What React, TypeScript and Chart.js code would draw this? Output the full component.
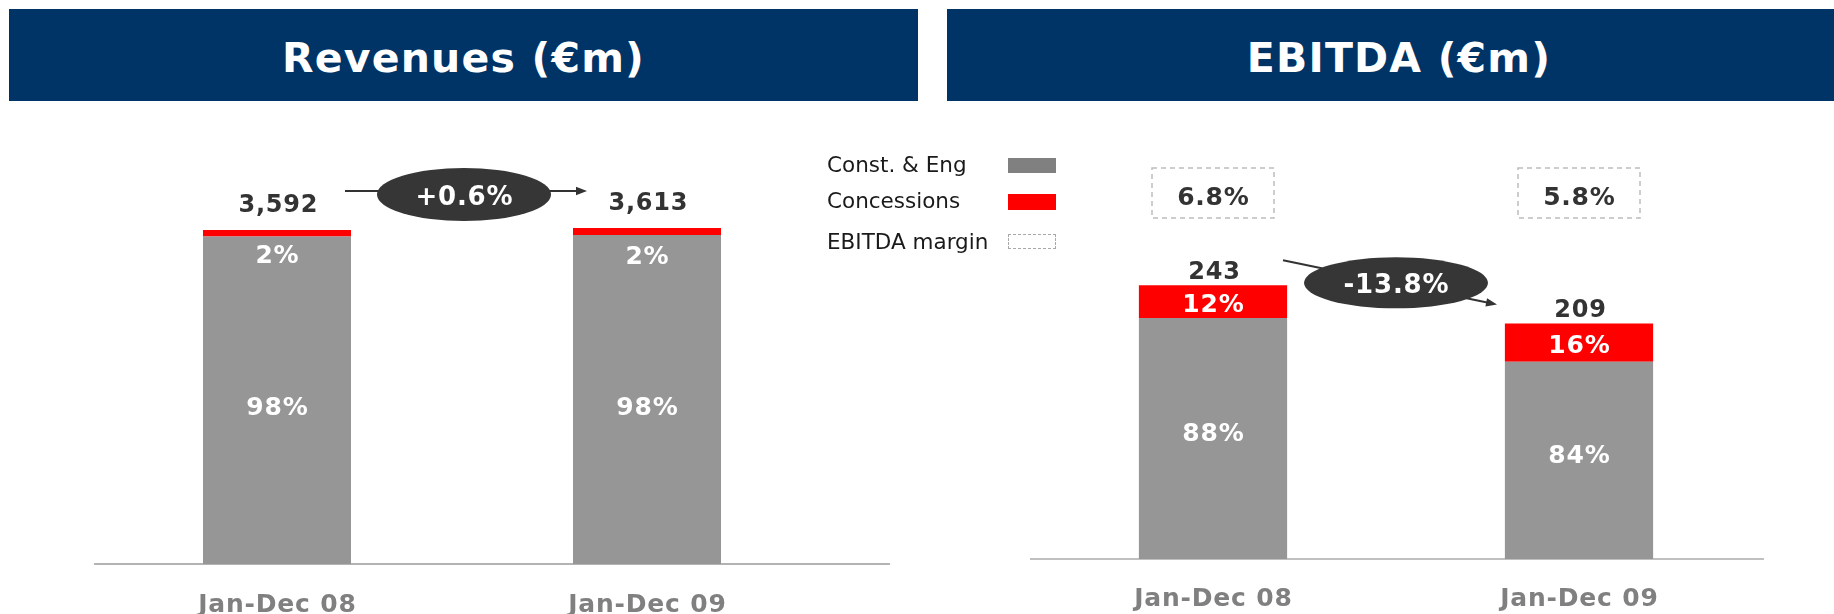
import React, { useEffect, useRef } from "react";
import { Chart, registerables } from "chart.js";

Chart.register(...registerables);

// ---------- data ----------
const periods = ["Jan-Dec 08", "Jan-Dec 09"];

const revenueConstEng = [3522, 3538];
const revenueConcessions = [70, 75];
const revenueTotalLabels = ["3,592", "3,613"];
const revenueConstEngShare = ["98%", "98%"];
const revenueConcessionsShare = ["2%", "2%"];
const revenueGrowth = "+0.6%";

const ebitdaConstEng = [214, 175];
const ebitdaConcessions = [29, 34];
const ebitdaTotalLabels = ["243", "209"];
const ebitdaConstEngShare = ["88%", "84%"];
const ebitdaConcessionsShare = ["12%", "16%"];
const ebitdaMargins = ["6.8%", "5.8%"];
const ebitdaGrowth = "-13.8%";

const legendLabels = ["Const. & Eng", "Concessions", "EBITDA margin"];

// ---------- styles ----------
const GRAY = "#969696";
const RED = "#FF0000";
const NAVY = "#003366";
const DARK = "#333333";
const FONT = '"DejaVu Sans", Verdana, sans-serif';

function drawText(
  ctx: CanvasRenderingContext2D,
  s: string,
  x: number,
  cy: number,
  size: number,
  color: string,
  spacing = 0
) {
  ctx.save();
  ctx.font = `bold ${size}px ${FONT}`;
  ctx.fillStyle = color;
  ctx.textAlign = "center";
  ctx.textBaseline = "alphabetic";
  (ctx as any).letterSpacing = spacing + "px";
  ctx.fillText(s, x + spacing / 2, cy + size * 0.365);
  ctx.restore();
}

function drawArrow(ctx: CanvasRenderingContext2D, x1: number, y1: number, x2: number, y2: number) {
  const ang = Math.atan2(y2 - y1, x2 - x1);
  const len = 11;
  const w = 4.2;
  ctx.save();
  ctx.strokeStyle = DARK;
  ctx.fillStyle = DARK;
  ctx.lineWidth = 2;
  ctx.beginPath();
  ctx.moveTo(x1, y1);
  ctx.lineTo(x2 - Math.cos(ang) * len * 0.8, y2 - Math.sin(ang) * len * 0.8);
  ctx.stroke();
  ctx.beginPath();
  ctx.moveTo(x2, y2);
  ctx.lineTo(x2 - Math.cos(ang) * len - Math.sin(ang) * w, y2 - Math.sin(ang) * len + Math.cos(ang) * w);
  ctx.lineTo(x2 - Math.cos(ang) * len + Math.sin(ang) * w, y2 - Math.sin(ang) * len - Math.cos(ang) * w);
  ctx.closePath();
  ctx.fill();
  ctx.restore();
}

function drawBubble(ctx: CanvasRenderingContext2D, cx: number, cy: number, w: number, h: number, label: string) {
  ctx.save();
  ctx.fillStyle = "#363636";
  ctx.beginPath();
  ctx.ellipse(cx, cy, w / 2, h / 2, 0, 0, Math.PI * 2);
  ctx.fill();
  ctx.restore();
  drawText(ctx, label, cx, cy + 1, 26, "#FFFFFF", 0.8);
}

type Cfg = {
  kind: "rev" | "ebitda";
  totals: string[];
  bottomShares: string[];
  topShares: string[];
  growth: string;
  margins?: string[];
  axisFrom: number;
  axisTo: number;
  axisColor: string;
  labelOffset: number;
};

function makePlugin(cfg: Cfg) {
  return {
    id: "annotations_" + cfg.kind,
    beforeDatasetsDraw(chart: any) {
      const ctx: CanvasRenderingContext2D = chart.ctx;
      const a = chart.chartArea;
      const y0 = chart.scales.y.getPixelForValue(0);
      ctx.save();
      ctx.strokeStyle = cfg.axisColor;
      ctx.lineWidth = 1.5;
      ctx.beginPath();
      ctx.moveTo(a.left + cfg.axisFrom, y0);
      ctx.lineTo(a.right + cfg.axisTo, y0);
      ctx.stroke();
      ctx.restore();
    },
    afterDatasetsDraw(chart: any) {
      const ctx: CanvasRenderingContext2D = chart.ctx;
      const a = chart.chartArea;
      const g = chart.getDatasetMeta(0).data as any[];
      const r = chart.getDatasetMeta(1).data as any[];
      const y0 = chart.scales.y.getPixelForValue(0);

      (chart.data.labels as string[]).forEach((lab, i) => {
        drawText(ctx, lab, g[i].x, y0 + cfg.labelOffset, 25, "#808080", 0.8);
      });

      g.forEach((bar, i) => {
        const grayTop = bar.y;
        const base = bar.base;
        const redTop = r[i].y;
        if (cfg.kind === "rev") {
          drawText(ctx, cfg.totals[i], bar.x + 1, redTop - 27, 24, DARK, 0.8);
          drawText(ctx, cfg.topShares[i], bar.x, grayTop + 17 + i * 3, 25, "#FFFFFF", 0.8);
          drawText(ctx, cfg.bottomShares[i], bar.x, (grayTop + base) / 2 + 6, 25, "#FFFFFF", 0.8);
        } else {
          drawText(ctx, cfg.totals[i], bar.x + 1, redTop - 15, 24, DARK, 0.8);
          drawText(ctx, cfg.topShares[i], bar.x, (redTop + grayTop) / 2 + 1, 25, "#FFFFFF", 0.8);
          drawText(ctx, cfg.bottomShares[i], bar.x, (grayTop + base) / 2 - 7, 25, "#FFFFFF", 0.8);
          if (cfg.margins) {
            const bw = 122;
            const bh = 50;
            const cy = a.top - 28;
            ctx.save();
            ctx.strokeStyle = "#BDBDBD";
            ctx.lineWidth = 1.5;
            ctx.setLineDash([5, 4]);
            ctx.strokeRect(bar.x - bw / 2, cy - bh / 2, bw, bh);
            ctx.restore();
            drawText(ctx, cfg.margins[i], bar.x, cy + 3, 25, DARK, 0.8);
          }
        }
      });

      if (cfg.kind === "rev") {
        const ay = Math.min(r[0].y, r[1].y) - 37;
        drawArrow(ctx, g[0].x + 68, ay, g[1].x - 60, ay);
        drawBubble(ctx, (g[0].x + g[1].x) / 2 + 2, ay + 3.5, 174, 53, cfg.growth);
      } else {
        const x1 = g[0].x + 70;
        const y1 = r[0].y - 25;
        const x2 = g[1].x - 82;
        const y2 = r[1].y - 19;
        drawArrow(ctx, x1, y1, x2, y2);
        drawBubble(ctx, (x1 + x2) / 2 + 6, (y1 + y2) / 2 + 0.5, 184, 51, cfg.growth);
      }
    },
  };
}

function useBarChart(
  ref: React.RefObject<HTMLCanvasElement | null>,
  bottom: number[],
  top: number[],
  yMax: number,
  padding: { left: number; right: number; top: number; bottom: number },
  barPct: number,
  cfg: Cfg
) {
  useEffect(() => {
    if (!ref.current) return;
    const chart = new Chart(ref.current, {
      type: "bar",
      data: {
        labels: periods,
        datasets: [
          {
            label: legendLabels[0],
            data: bottom,
            backgroundColor: GRAY,
            borderWidth: 0,
            barPercentage: barPct,
            categoryPercentage: 1,
          },
          {
            label: legendLabels[1],
            data: top,
            backgroundColor: RED,
            borderWidth: 0,
            barPercentage: barPct,
            categoryPercentage: 1,
          },
        ],
      },
      options: {
        responsive: false,
        animation: false,
        layout: { padding },
        scales: {
          x: { stacked: true, display: false },
          y: { stacked: true, display: false, min: 0, max: yMax },
        },
        plugins: {
          legend: { display: false },
          tooltip: { enabled: false },
        },
      },
      plugins: [makePlugin(cfg) as any],
    });
    return () => chart.destroy();
  }, []);
}

const headerStyle: React.CSSProperties = {
  position: "absolute",
  top: 9,
  height: 92,
  paddingTop: 6,
  background: NAVY,
  color: "#FFFFFF",
  display: "flex",
  alignItems: "center",
  justifyContent: "center",
  fontFamily: FONT,
  fontWeight: "bold",
  fontSize: 41,
  letterSpacing: 1.2,
  boxSizing: "border-box",
};

const legendText: React.CSSProperties = {
  position: "absolute",
  left: 827,
  fontFamily: FONT,
  fontSize: 21.5,
  color: "#1A1A1A",
  lineHeight: "24px",
  whiteSpace: "nowrap",
};

export default function App() {
  const leftRef = useRef<HTMLCanvasElement>(null);
  const rightRef = useRef<HTMLCanvasElement>(null);

  useBarChart(
    leftRef,
    revenueConstEng,
    revenueConcessions,
    4000,
    { left: 92, right: 88, top: 192, bottom: 50 },
    0.4,
    {
      kind: "rev",
      totals: revenueTotalLabels,
      topShares: revenueConcessionsShare,
      bottomShares: revenueConstEngShare,
      growth: revenueGrowth,
      axisFrom: 2,
      axisTo: 58,
      axisColor: "#9A9A9A",
      labelOffset: 39,
    }
  );

  useBarChart(
    rightRef,
    ebitdaConstEng,
    ebitdaConcessions,
    300,
    { left: 110, right: 72, top: 221, bottom: 55 },
    0.405,
    {
      kind: "ebitda",
      totals: ebitdaTotalLabels,
      topShares: ebitdaConcessionsShare,
      bottomShares: ebitdaConstEngShare,
      growth: ebitdaGrowth,
      margins: ebitdaMargins,
      axisFrom: 0,
      axisTo: 2,
      axisColor: "#ABABAB",
      labelOffset: 38,
    }
  );

  return (
    <div
      style={{
        position: "absolute",
        left: 0,
        top: 0,
        width: 1834,
        height: 614,
        background: "#FFFFFF",
        overflow: "hidden",
      }}
    >
      <div style={{ ...headerStyle, left: 9, width: 909 }}>Revenues (€m)</div>
      <div style={{ ...headerStyle, left: 947, width: 887, paddingLeft: 17 }}>EBITDA (€m)</div>

      <canvas
        ref={leftRef}
        width={920}
        height={614}
        style={{ position: "absolute", left: 0, top: 0, width: 920, height: 614 }}
      />
      <canvas
        ref={rightRef}
        width={914}
        height={614}
        style={{ position: "absolute", left: 920, top: 0, width: 914, height: 614 }}
      />

      <div style={{ ...legendText, top: 153 }}>{legendLabels[0]}</div>
      <div style={{ ...legendText, top: 189 }}>{legendLabels[1]}</div>
      <div style={{ ...legendText, top: 230 }}>{legendLabels[2]}</div>
      <div style={{ position: "absolute", left: 1008, top: 158, width: 48, height: 15, background: "#808080" }} />
      <div style={{ position: "absolute", left: 1008, top: 194, width: 48, height: 16, background: RED }} />
      <div
        style={{
          position: "absolute",
          left: 1008,
          top: 234,
          width: 48,
          height: 15,
          border: "1px dashed #A8A8A8",
          boxSizing: "border-box",
        }}
      />
    </div>
  );
}
